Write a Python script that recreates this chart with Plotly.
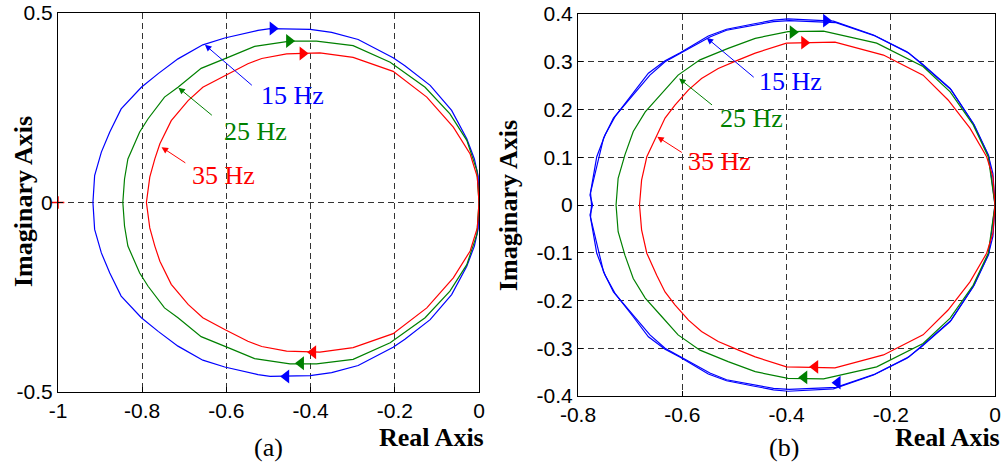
import plotly.graph_objects as go

# ---------------- data (upper half, Im >= 0; lower half is the conjugate) -------------
a_blue_re = [-0.917, -0.913, -0.897, -0.877, -0.850, -0.802, -0.762, -0.715, -0.656, -0.604, -0.525,
             -0.496, -0.401, -0.350, -0.287, -0.204, -0.176, -0.116, -0.065, -0.029, -0.011, -0.002, 0.0]
a_blue_im = [0.0, 0.071, 0.133, 0.186, 0.247, 0.304, 0.340, 0.379, 0.416, 0.434, 0.454,
             0.459, 0.457, 0.449, 0.430, 0.382, 0.361, 0.309, 0.243, 0.168, 0.115, 0.070, 0.0]
a_green_re = [-0.846, -0.842, -0.834, -0.806, -0.786, -0.747, -0.715, -0.660, -0.596, -0.533, -0.449,
              -0.386, -0.299, -0.211, -0.128, -0.069, -0.029, -0.005, 0.0]
a_green_im = [0.0, 0.062, 0.115, 0.186, 0.221, 0.278, 0.304, 0.354, 0.383, 0.412, 0.426,
              0.426, 0.414, 0.370, 0.304, 0.234, 0.164, 0.084, 0.0]
a_red_re = [-0.790, -0.782, -0.770, -0.758, -0.731, -0.691, -0.656, -0.604, -0.549, -0.516, -0.457,
            -0.378, -0.299, -0.204, -0.124, -0.061, -0.021, -0.004, 0.0]
a_red_im = [0.0, 0.067, 0.115, 0.155, 0.216, 0.269, 0.304, 0.335, 0.366, 0.380, 0.392,
            0.395, 0.383, 0.346, 0.278, 0.199, 0.128, 0.067, 0.0]

b_blue1_re = [-0.774, -0.776, -0.764, -0.748, -0.729, -0.694, -0.665, -0.633, -0.604, -0.550, -0.515,
              -0.464, -0.425, -0.397, -0.310, -0.233, -0.169, -0.141, -0.086, -0.042, -0.013, -0.004, 0.0]
b_blue1_im = [0.0, 0.026, 0.101, 0.147, 0.185, 0.234, 0.276, 0.302, 0.319, 0.354, 0.368,
              0.379, 0.387, 0.390, 0.385, 0.356, 0.321, 0.297, 0.244, 0.171, 0.105, 0.066, 0.0]
b_blue2_re = [-0.772, -0.777, -0.751, -0.732, -0.662, -0.633, -0.547, -0.515, -0.425, -0.395, -0.305,
              -0.230, -0.165, -0.084, -0.040, -0.012, 0.0]
b_blue2_im = [0.0, 0.021, 0.140, 0.182, 0.272, 0.300, 0.352, 0.366, 0.384, 0.386, 0.382,
              0.354, 0.318, 0.241, 0.168, 0.103, 0.0]
b_green_re = [-0.727, -0.723, -0.710, -0.694, -0.671, -0.639, -0.608, -0.566, -0.512, -0.460, -0.397,
              -0.329, -0.227, -0.138, -0.086, -0.042, -0.013, 0.0]
b_green_im = [0.0, 0.056, 0.105, 0.154, 0.195, 0.234, 0.272, 0.304, 0.328, 0.349, 0.363,
              0.364, 0.339, 0.290, 0.237, 0.168, 0.101, 0.0]
b_red_re = [-0.682, -0.678, -0.668, -0.649, -0.633, -0.614, -0.588, -0.563, -0.531, -0.492, -0.460,
            -0.400, -0.307, -0.214, -0.138, -0.090, -0.048, -0.016, -0.004, 0.0]
b_red_im = [0.0, 0.052, 0.101, 0.147, 0.182, 0.209, 0.241, 0.265, 0.286, 0.304, 0.318,
            0.339, 0.341, 0.314, 0.272, 0.220, 0.161, 0.101, 0.059, 0.0]

# direction arrowheads: (re, im) of the upper (->) and lower (<-) arrows
a_arrow_re = {"blue": (-0.490, -0.458), "green": (-0.451, -0.423), "red": (-0.419, -0.394)}
a_arrow_im = {"blue": (0.459, -0.459), "green": (0.426, -0.424), "red": (0.393, -0.395)}
b_arrow_re = {"blue": (-0.324, -0.302), "green": (-0.388, -0.366), "red": (-0.366, -0.345)}
b_arrow_im = {"blue": (0.386, -0.372), "green": (0.362, -0.361), "red": (0.340, -0.339)}

labels = ["15 Hz", "25 Hz", "35 Hz"]
# label text centre, arrow tail, arrow tip (re, im)
a_lab_pos = [(-0.442, 0.282), (-0.532, 0.188), (-0.607, 0.071)]
a_lab_tail = [(-0.536, 0.306), (-0.631, 0.227), (-0.694, 0.102)]
a_lab_tip = [(-0.651, 0.416), (-0.714, 0.303), (-0.754, 0.146)]
b_lab_pos = [(-0.393, 0.258), (-0.467, 0.182), (-0.528, 0.091)]
b_lab_tail = [(-0.460, 0.265), (-0.540, 0.207), (-0.598, 0.108)]
b_lab_tip = [(-0.553, 0.350), (-0.606, 0.265), (-0.648, 0.143)]

a_xticks = [-1, -0.8, -0.6, -0.4, -0.2, 0]
a_xticktext = ["-1", "-0.8", "-0.6", "-0.4", "-0.2", "0"]
a_yticks = [-0.5, 0, 0.5]
a_yticktext = ["-0.5", "0", "0.5"]
b_xticks = [-0.8, -0.6, -0.4, -0.2, 0]
b_xticktext = ["-0.8", "-0.6", "-0.4", "-0.2", "0"]
b_yticks = [-0.4, -0.3, -0.2, -0.1, 0, 0.1, 0.2, 0.3, 0.4]
b_yticktext = ["-0.4", "-0.3", "-0.2", "-0.1", "0", "0.1", "0.2", "0.3", "0.4"]

critical_re = [-1.0]
critical_im = [0.0]

# ---------------- figure -------------
COL = {"blue": "#0000FF", "green": "#008000", "red": "#FF0000"}
W, H = 1002, 471

fig = go.Figure()


def closed(re, im):
    xs = list(re) + list(reversed(re))
    ys = list(im) + [-v for v in reversed(im)]
    return xs, ys


def add_curve(re, im, color, xa, ya):
    xs, ys = closed(re, im)
    fig.add_trace(go.Scatter(x=xs, y=ys, mode="lines",
                             line=dict(color=color, width=1.2),
                             xaxis=xa, yaxis=ya, showlegend=False, hoverinfo="skip"))


add_curve(a_blue_re, a_blue_im, COL["blue"], "x", "y")
add_curve(a_green_re, a_green_im, COL["green"], "x", "y")
add_curve(a_red_re, a_red_im, COL["red"], "x", "y")
add_curve(b_blue1_re, b_blue1_im, COL["blue"], "x2", "y2")
add_curve(b_blue2_re, b_blue2_im, COL["blue"], "x2", "y2")
add_curve(b_green_re, b_green_im, COL["green"], "x2", "y2")
add_curve(b_red_re, b_red_im, COL["red"], "x2", "y2")


def add_arrows(are, aim, xa, ya):
    for k in ["blue", "green", "red"]:
        fig.add_trace(go.Scatter(x=[are[k][0]], y=[aim[k][0]], mode="markers",
                                 marker=dict(symbol="triangle-right", size=12, color=COL[k],
                                             line=dict(width=0)),
                                 xaxis=xa, yaxis=ya, showlegend=False, hoverinfo="skip"))
        fig.add_trace(go.Scatter(x=[are[k][1]], y=[aim[k][1]], mode="markers",
                                 marker=dict(symbol="triangle-left", size=12, color=COL[k],
                                             line=dict(width=0)),
                                 xaxis=xa, yaxis=ya, showlegend=False, hoverinfo="skip"))


add_arrows(a_arrow_re, a_arrow_im, "x", "y")
add_arrows(b_arrow_re, b_arrow_im, "x2", "y2")

fig.add_trace(go.Scatter(x=critical_re, y=critical_im, mode="markers",
                         marker=dict(symbol="cross-thin", size=9, line=dict(color="#FF0000", width=1.5)),
                         xaxis="x", yaxis="y", showlegend=False, hoverinfo="skip", cliponaxis=False))

ann = []
lab_cols = [COL["blue"], COL["green"], COL["red"]]
for (pos, tail, tip, xa, ya) in [(a_lab_pos, a_lab_tail, a_lab_tip, "x", "y"),
                                 (b_lab_pos, b_lab_tail, b_lab_tip, "x2", "y2")]:
    for i in range(3):
        ann.append(dict(x=pos[i][0], y=pos[i][1], xref=xa, yref=ya, text=labels[i], showarrow=False,
                        xanchor="center", yanchor="middle",
                        font=dict(family="Liberation Serif", size=26, color=lab_cols[i])))
        ann.append(dict(x=tip[i][0], y=tip[i][1], ax=tail[i][0], ay=tail[i][1], xref=xa, yref=ya,
                        axref=xa, ayref=ya, text="", showarrow=True, arrowhead=2, arrowsize=1.3,
                        arrowwidth=1, arrowcolor=lab_cols[i]))

serif_b = dict(family="Liberation Serif", size=26, color="black")
paper_txt = [
    (431, 437, "<b>Real Axis</b>", 0),
    (947, 437, "<b>Real Axis</b>", 0),
    (23, 202, "<b>Imaginary Axis</b>", -90),
    (508, 205, "<b>Imaginary Axis</b>", -90),
    (268, 447, "(a)", 0),
    (784, 447, "(b)", 0),
]
for px, py, txt, ang in paper_txt:
    ann.append(dict(x=px / W, y=1 - py / H, xref="paper", yref="paper", text=txt,
                    showarrow=False, textangle=ang, xanchor="center", yanchor="middle",
                    font=serif_b))

tickfont = dict(family="Liberation Sans", size=21, color="black")
axis_common = dict(showline=True, mirror=True, linecolor="black", linewidth=1,
                   ticks="inside", ticklen=5, tickcolor="black", tickfont=tickfont,
                   zeroline=False, showgrid=True, gridcolor="#333333", gridwidth=1,
                   griddash="6px,4px", automargin=False)

fig.update_layout(
    width=W, height=H, margin=dict(l=0, r=0, t=0, b=0, autoexpand=False),
    plot_bgcolor="white", paper_bgcolor="white", showlegend=False,
    annotations=ann,
    xaxis=dict(domain=[58 / W, 479 / W], range=[-1, 0], tickvals=a_xticks, ticktext=a_xticktext,
               anchor="y", **axis_common),
    yaxis=dict(domain=[1 - 392 / H, 1 - 13 / H], range=[-0.5, 0.5], tickvals=a_yticks,
               ticktext=a_yticktext, anchor="x", **axis_common),
    xaxis2=dict(domain=[578 / W, 995 / W], range=[-0.8, 0], tickvals=b_xticks, ticktext=b_xticktext,
                anchor="y2", **axis_common),
    yaxis2=dict(domain=[1 - 396 / H, 1 - 14 / H], range=[-0.4, 0.4], tickvals=b_yticks,
                ticktext=b_yticktext, anchor="x2", **axis_common),
)

fig.write_html("out.html")
